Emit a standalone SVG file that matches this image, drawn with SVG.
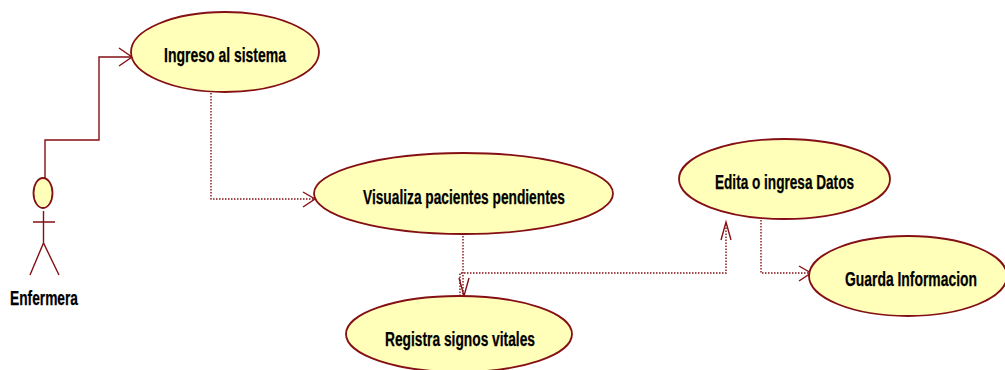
<svg xmlns="http://www.w3.org/2000/svg" width="1005" height="370" viewBox="0 0 1005 370">
<style>
.uc{fill:#ffffb9;stroke:#840f14;stroke-width:1.8}
.l{fill:none;stroke:#840f14;stroke-width:1.4}
.d{fill:none;stroke:#840f14;stroke-width:1.4;stroke-dasharray:1.5 1.5}
.t{font-family:"Liberation Sans",Arial,sans-serif;font-weight:bold;font-size:20px;fill:#000;stroke:#000;stroke-width:.25}
</style>
<rect width="1005" height="370" fill="#fff"/>
<g id="connectors">
<path class="l" d="M45 178V140H99V57H131"/>
<path class="l" d="M119 48L132 57L119 66"/>
<path class="d" d="M211 93V199H314"/>
<path class="l" d="M303 192L315 199L303 207"/>
<path class="d" d="M463 236V296"/>
<path class="l" d="M459 278L464 296L469 278"/>
<path class="d" d="M460 296V273H726V223"/>
<path class="l" d="M721 240L726 222L731 240"/>
<path class="d" d="M761 220V273H809"/>
<path class="l" d="M799 266L811 273L799 281"/>
</g>
<g id="actor-enfermera">
<ellipse class="uc" cx="43" cy="193" rx="9.5" ry="15"/>
<path class="l" d="M43.500 211V243M33 222H55M30 275L43.500 243L59 275"/>
<text class="t" x="10" y="304.500" textLength="68" lengthAdjust="spacingAndGlyphs">Enfermera</text>
</g>
<g id="uc-ingreso">
<ellipse class="uc" cx="225" cy="52" rx="94" ry="40"/>
<text class="t" x="164" y="61.500" textLength="122" lengthAdjust="spacingAndGlyphs">Ingreso al sistema</text>
</g>
<g id="uc-visualiza">
<ellipse class="uc" cx="463.500" cy="193.500" rx="149.500" ry="40.500"/>
<text class="t" x="363" y="203.500" textLength="202" lengthAdjust="spacingAndGlyphs">Visualiza pacientes pendientes</text>
</g>
<g id="uc-registra">
<ellipse class="uc" cx="459" cy="334" rx="113" ry="38"/>
<text class="t" x="385" y="345.500" textLength="150" lengthAdjust="spacingAndGlyphs">Registra signos vitales</text>
</g>
<g id="uc-edita">
<ellipse class="uc" cx="784.500" cy="179" rx="105.500" ry="40"/>
<text class="t" x="715" y="188.500" textLength="139" lengthAdjust="spacingAndGlyphs">Edita o ingresa Datos</text>
</g>
<g id="uc-guarda">
<ellipse class="uc" cx="908" cy="276" rx="99" ry="40"/>
<text class="t" x="845" y="285.500" textLength="132" lengthAdjust="spacingAndGlyphs">Guarda Informacion</text>
</g>
</svg>
